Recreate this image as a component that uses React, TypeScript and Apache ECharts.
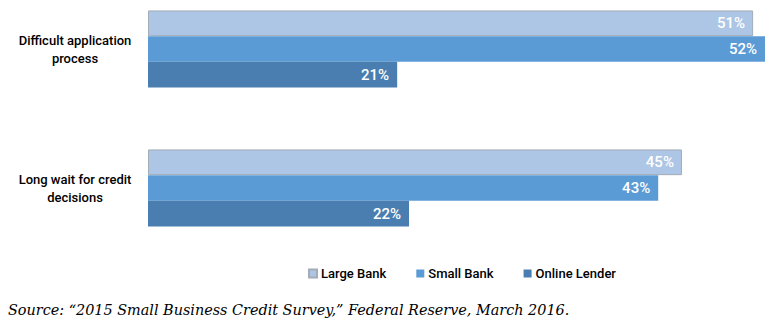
import React, { useEffect, useRef } from "react";
import * as echarts from "echarts";

const categories = ["Difficult application\nprocess", "Long wait for credit\ndecisions"];
const seriesNames = ["Large Bank", "Small Bank", "Online Lender"];
const largeBank = [51, 45];
const smallBank = [52, 43];
const onlineLender = [21, 22];
const sourceText = "Source: \u201c2015 Small Business Credit Survey,\u201d Federal Reserve, March 2016.";

const colors = ["#adc6e5", "#5b9bd5", "#4a7eb0"];
const labelFont = "Roboto, 'Liberation Sans', Arial, sans-serif";

export default function App() {
  const ref = useRef<HTMLDivElement>(null);
  useEffect(() => {
    if (!ref.current) return;
    const chart = echarts.init(ref.current, null, { renderer: "svg" });
    const values = [largeBank, smallBank, onlineLender];
    chart.setOption({
      animation: false,
      grid: { left: 148, right: 7, top: 49, height: 139 },
      xAxis: {
        type: "value",
        min: 0,
        max: 52,
        show: false,
      },
      yAxis: {
        type: "category",
        data: categories,
        inverse: true,
        boundaryGap: false,
        axisLine: { show: false },
        axisTick: { show: false },
        splitLine: { show: false },
        axisLabel: {
          margin: 73,
          align: "center",
          color: "#000",
          fontFamily: labelFont,
          fontSize: 13,
          fontWeight: 500,
          lineHeight: 18,
        },
      },
      legend: {
        data: seriesNames,
        left: 303,
        top: 262,
        icon: "rect",
        itemWidth: 8,
        itemHeight: 8,
        itemGap: 30,
        textStyle: {
          color: "#000",
          fontFamily: labelFont,
          fontSize: 13,
          fontWeight: 500,
          padding: [0, 0, 0, -1],
        },
      },
      graphic: [
        {
          type: "text",
          left: 8,
          top: 303,
          style: {
            text: sourceText,
            fill: "#000",
            font: "italic 14.4px 'DejaVu Serif', 'Liberation Serif', serif",
          },
        },
      ],
      series: seriesNames.map((name, i) => ({
        name,
        type: "bar",
        data: values[i],
        barWidth: 25.7,
        barGap: "0%",
        itemStyle: {
          color: colors[i],
          borderColor: i === 0 ? "#a3acb7" : undefined,
          borderWidth: i === 0 ? 1 : 0,
        },
        label: {
          show: true,
          position: "insideRight",
          distance: 8,
          formatter: "{c}%",
          color: "#fff",
          fontFamily: "Roboto, 'Liberation Sans', Arial, sans-serif",
          fontSize: 15,
          fontWeight: 500,
        },
      })),
    });
    return () => chart.dispose();
  }, []);
  return (
    <div
      ref={ref}
      style={{ position: "fixed", left: 0, top: 0, width: 772, height: 326, background: "#fff" }}
    />
  );
}
